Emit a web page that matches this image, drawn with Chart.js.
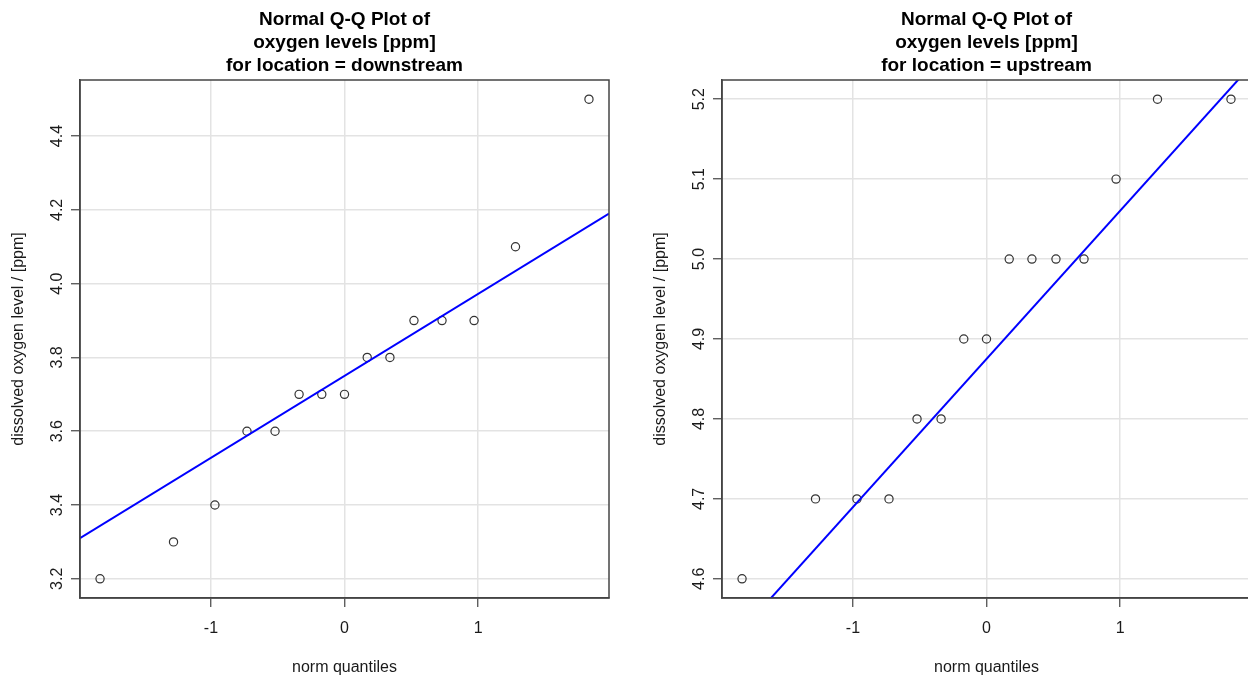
<!DOCTYPE html>
<html>
<head>
<meta charset="utf-8">
<script src="https://cdn.jsdelivr.net/npm/chart.js@4.4.1/dist/chart.umd.min.js"></script>
<style>
  html, body { margin: 0; padding: 0; background: #fff; overflow: hidden; width: 1248px; height: 677px; }
  .panel { position: absolute; top: 0; width: 624px; height: 677px; }
  #left { left: 0; }
  #right { left: 642px; }
</style>
</head>
<body>
<div class="panel" id="left"><canvas id="down" width="624" height="677"></canvas></div>
<div class="panel" id="right"><canvas id="up" width="624" height="677"></canvas></div>
<script>
// theoretical normal quantiles, same for both panels (15 obs each)
const normQuantiles = [-1.83, -1.28, -0.97, -0.73, -0.52, -0.34, -0.17, 0, 0.17, 0.34, 0.52, 0.73, 0.97, 1.28, 1.83];
const downstreamO2 = [3.2, 3.3, 3.4, 3.6, 3.6, 3.7, 3.7, 3.7, 3.8, 3.8, 3.9, 3.9, 3.9, 4.1, 4.5];
const upstreamO2 = [4.6, 4.7, 4.7, 4.7, 4.8, 4.8, 4.9, 4.9, 5.0, 5.0, 5.0, 5.0, 5.1, 5.2, 5.2];

// qq lines: y at the left / right end of the x range
const lineX = [-1.98, 1.98];
const downstreamLine = [3.31, 4.19];
const upstreamLine = [4.508, 5.242];

const xTicks = [-1, 0, 1];
const downTicks = [3.2, 3.4, 3.6, 3.8, 4.0, 4.2, 4.4];
const upTicks = [4.6, 4.7, 4.8, 4.9, 5.0, 5.1, 5.2];

const xRange = [-1.98, 1.98];
const downRange = [3.148, 4.552];
const upRange = [4.576, 5.224];

Chart.defaults.font.family = "'Liberation Sans', Arial, sans-serif";
Chart.defaults.color = '#1a1a1a';

// R-style box round the plot region
const frame = {
  id: 'frame',
  afterDatasetsDraw(chart) {
    const { ctx, chartArea: a } = chart;
    ctx.save();
    ctx.strokeStyle = '#444';
    ctx.lineWidth = 1.5;
    ctx.strokeRect(a.left, a.top, a.right - a.left, a.bottom - a.top);
    ctx.restore();
  }
};

function qqPlot(id, location, values, line, yTicks, yRange) {
  return new Chart(document.getElementById(id), {
    type: 'scatter',
    data: {
      datasets: [
        {
          type: 'line',
          data: lineX.map((x, i) => ({ x: x, y: line[i] })),
          borderColor: '#0000ff',
          borderWidth: 2,
          pointRadius: 0,
          clip: 0
        },
        {
          data: normQuantiles.map((q, i) => ({ x: q, y: values[i] })),
          pointStyle: 'circle',
          pointRadius: 4.1,
          backgroundColor: 'rgba(0,0,0,0)',
          borderColor: '#333',
          borderWidth: 1.2,
          clip: false
        }
      ]
    },
    options: {
      responsive: false,
      animation: false,
      layout: { padding: { left: 0, right: 15, top: 0, bottom: 0 } },
      plugins: {
        legend: { display: false },
        tooltip: { enabled: false },
        title: {
          display: true,
          fullSize: false,
          text: ['Normal Q-Q Plot of', 'oxygen levels [ppm]', 'for location = ' + location],
          color: '#000',
          font: { size: 19, weight: 'bold', lineHeight: 23 / 19 },
          padding: { top: 8.5, bottom: 2.5 }
        }
      },
      scales: {
        x: {
          type: 'linear',
          min: xRange[0],
          max: xRange[1],
          afterBuildTicks: s => { s.ticks = xTicks.map(v => ({ value: v })); },
          afterFit: s => { s.height = 79; },
          ticks: { padding: 12, maxRotation: 0, font: { size: 16 } },
          grid: { color: '#e3e3e3', lineWidth: 1.5, tickColor: '#444', tickWidth: 1.2, tickLength: 9 },
          border: { display: true, color: '#444', width: 1.5 },
          title: { display: true, text: 'norm quantiles', font: { size: 16 }, padding: { top: 0, bottom: 0 } }
        },
        y: {
          type: 'linear',
          min: yRange[0],
          max: yRange[1],
          afterBuildTicks: s => { s.ticks = yTicks.map(v => ({ value: v })); },
          afterFit: s => { s.width = 80; },
          ticks: {
            padding: 2.5,
            crossAlign: 'center',
            minRotation: 90,
            maxRotation: 90,
            font: { size: 16 },
            callback: v => v.toFixed(1)
          },
          grid: { color: '#e3e3e3', lineWidth: 1.5, tickColor: '#444', tickWidth: 1.2, tickLength: 9 },
          border: { display: true, color: '#444', width: 1.5 },
          title: { display: true, text: 'dissolved oxygen level / [ppm]', font: { size: 16 }, padding: { top: 8.5, bottom: 0 } }
        }
      }
    },
    plugins: [frame]
  });
}

qqPlot('down', 'downstream', downstreamO2, downstreamLine, downTicks, downRange);
qqPlot('up', 'upstream', upstreamO2, upstreamLine, upTicks, upRange);
</script>
</body>
</html>
